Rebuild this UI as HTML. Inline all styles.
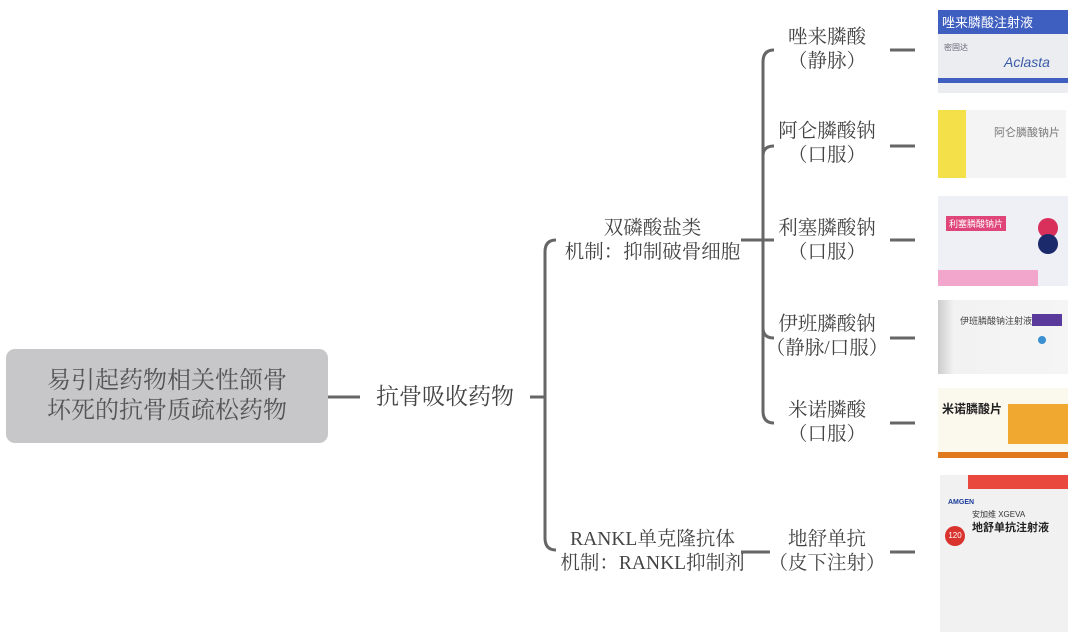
<!DOCTYPE html>
<html><head><meta charset="utf-8"><style>
body{margin:0;width:1080px;height:638px;background:#fff;position:relative;overflow:hidden;font-family:"Liberation Serif","Noto Serif CJK SC","Noto Sans CJK SC",serif;color:#444}
.t{position:absolute;text-align:center;white-space:nowrap;line-height:24px;font-size:19.5px}
.b{position:absolute;overflow:hidden;font-family:"Liberation Sans","Noto Sans CJK SC",sans-serif}
</style></head><body>
<svg width="1080" height="638" style="position:absolute;left:0;top:0">
<rect x="6" y="349" width="322" height="94" rx="9" fill="#c7c7ca"/>
<g stroke="#666" stroke-width="3" fill="none">
<line x1="328" y1="397" x2="360" y2="397"/>
<line x1="530" y1="397" x2="545" y2="397"/>
<path d="M556 240 Q545 240 545 252 L545 538 Q545 550 556 550"/>
<line x1="741" y1="240" x2="763" y2="240"/>
<path d="M774 50 Q763 50 763 62 L763 411 Q763 423 774 423"/>
<path d="M774 146 Q763 146 763 156"/>
<path d="M774 338 Q763 338 763 328"/>
<line x1="763" y1="240" x2="774" y2="240"/>
<line x1="741" y1="552" x2="770" y2="552"/>
<line x1="890" y1="50" x2="915" y2="50"/>
<line x1="890" y1="146" x2="915" y2="146"/>
<line x1="890" y1="240" x2="915" y2="240"/>
<line x1="890" y1="338" x2="915" y2="338"/>
<line x1="890" y1="423" x2="915" y2="423"/>
<line x1="890" y1="552" x2="915" y2="552"/>
</g>
</svg>
<div class="t" style="left:6px;width:322px;top:366px;font-size:24px;line-height:30px;color:#555">易引起药物相关性颌骨<br>坏死的抗骨质疏松药物</div>
<div class="t" style="left:365px;width:160px;top:383px;font-size:23px;line-height:28px">抗骨吸收药物</div>
<div class="t" style="left:560px;width:185px;top:217px">双磷酸盐类<br>机制：抑制破骨细胞</div>
<div class="t" style="left:555px;width:195px;top:528px">RANKL单克隆抗体<br>机制：RANKL抑制剂</div>
<div class="t" style="left:767px;width:120px;top:26px">唑来膦酸<br>（静脉）</div>
<div class="t" style="left:767px;width:120px;top:120px">阿仑膦酸钠<br>（口服）</div>
<div class="t" style="left:767px;width:120px;top:217px">利塞膦酸钠<br>（口服）</div>
<div class="t" style="left:762px;width:130px;top:313px">伊班膦酸钠<br>（静脉/口服）</div>
<div class="t" style="left:767px;width:120px;top:399px">米诺膦酸<br>（口服）</div>
<div class="t" style="left:762px;width:130px;top:528px">地舒单抗<br>（皮下注射）</div>

<div class="b" style="left:938px;top:10px;width:130px;height:83px;background:#ecedf0">
<div style="background:#3f5fc0;color:#fff;font-size:13px;padding:2px 4px;height:20px">唑来膦酸注射液</div>
<div style="color:#667;font-size:8px;margin:8px 6px">密固达</div>
<div style="position:absolute;left:66px;top:44px;color:#3a5aa8;font-style:italic;font-size:14px">Aclasta</div>
<div style="position:absolute;left:0;top:68px;width:130px;height:5px;background:#3f5fc0"></div>
</div>
<div class="b" style="left:938px;top:110px;width:128px;height:68px;background:#f4f4f4">
<div style="position:absolute;left:0;top:0;width:28px;height:68px;background:#f4e14a"></div>
<div style="position:absolute;left:56px;top:14px;font-size:11px;color:#777">阿仑膦酸钠片</div>
</div>
<div class="b" style="left:938px;top:196px;width:130px;height:90px;background:#eef0f6">
<div style="position:absolute;left:8px;top:20px;background:#e0457a;color:#fff;font-size:9px;padding:1px 3px">利塞膦酸钠片</div>
<div style="position:absolute;left:100px;top:22px;width:20px;height:20px;border-radius:50%;background:#d8305a"></div>
<div style="position:absolute;left:100px;top:38px;width:20px;height:20px;border-radius:50%;background:#1a2a6a"></div>
<div style="position:absolute;left:0;top:74px;width:100px;height:16px;background:#f2a6cc"></div>
</div>
<div class="b" style="left:938px;top:300px;width:130px;height:74px;background:linear-gradient(90deg,#ccc,#f2f2f2 12%,#f5f5f5)">
<div style="position:absolute;left:22px;top:14px;font-size:9px;color:#444">伊班膦酸钠注射液</div>
<div style="position:absolute;left:94px;top:14px;width:30px;height:12px;background:#5a3a9a"></div>
<div style="position:absolute;left:100px;top:36px;width:8px;height:8px;border-radius:50%;background:#3a90d0"></div>
</div>
<div class="b" style="left:938px;top:388px;width:130px;height:70px;background:#fbf8ee">
<div style="position:absolute;left:4px;top:12px;font-size:12px;color:#222;font-weight:bold">米诺膦酸片</div>
<div style="position:absolute;left:70px;top:16px;width:60px;height:40px;background:#f0a830"></div>
<div style="position:absolute;left:0;top:64px;width:130px;height:6px;background:#e0781e"></div>
</div>
<div class="b" style="left:940px;top:475px;width:128px;height:157px;background:#f1f1f1">
<div style="position:absolute;left:28px;top:0;width:100px;height:14px;background:#e8483e"></div>
<div style="position:absolute;left:8px;top:24px;font-size:7px;color:#1a3a9a;font-weight:bold">AMGEN</div>
<div style="position:absolute;left:32px;top:34px;font-size:8px;color:#333">安加维 XGEVA</div>
<div style="position:absolute;left:32px;top:44px;font-size:11px;color:#222;font-weight:bold">地舒单抗注射液</div>
<div style="position:absolute;left:5px;top:51px;width:20px;height:20px;border-radius:50%;background:#d8332c;color:#fff;font-size:8px;text-align:center;line-height:20px">120</div>
</div>
</body></html>
